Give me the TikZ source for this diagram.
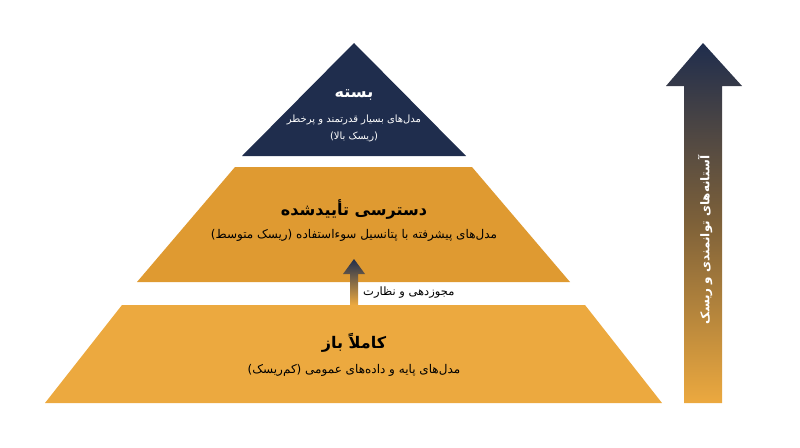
\documentclass[tikz,border=0pt]{standalone}
\usepackage{fontspec}
\TeXXeTstate=1
\newfontfamily\fa[Script=Arabic]{DejaVu Sans}
\usetikzlibrary{shadings}
\definecolor{navy}{HTML}{1F2D4D}
\definecolor{midorange}{HTML}{DF9A31}
\definecolor{lightorange}{HTML}{ECA93F}
\definecolor{brownmid}{HTML}{7E6139}
\tikzset{
  title/.style={font=\fa\bfseries\fontsize{16}{19}\selectfont, inner sep=0pt},
  sub/.style={font=\fa\fontsize{12}{17}\selectfont, inner sep=0pt, align=center},
  smallsub/.style={font=\fa\fontsize{10}{17}\selectfont, inner sep=0pt, align=center},
}
\begin{document}
\begin{tikzpicture}[x=1pt,y=-1pt]
\useasboundingbox (0,0) rectangle (800,447);
% levels
\fill[navy] (354,43) -- (466,156) -- (242,156) -- cycle;
\fill[midorange] (235,167) -- (472,167) -- (570,282) -- (137,282) -- cycle;
\fill[lightorange] (122,305) -- (585,305) -- (662,403) -- (45,403) -- cycle;
% top texts
\node[title, text=white] (t1) at (354,95) {\beginR بسته\endR};
\node[smallsub, text=white] (s1a) at (354,120) {\beginR مدل‌های بسیار قدرتمند و پرخطر\endR};
\node[smallsub, text=white] (s1b) at (354,137) {\beginR (ریسک بالا)\endR};
% middle texts
\node[title] (t2) at (354,210) {\beginR دسترسی تأییدشده\endR};
\node[sub] (s2) at (354,235) {\beginR مدل‌های پیشرفته با پتانسیل سوءاستفاده (ریسک متوسط)\endR};
% bottom texts
\node[title] (t3) at (354,343) {\beginR کاملاً باز\endR};
\node[sub] (s3) at (354,370) {\beginR مدل‌های پایه و داده‌های عمومی (کم‌ریسک)\endR};
% small arrow
\coordinate (sa) at (354,259);
\shade[top color=navy, bottom color=lightorange]
  (sa) -- (365,274) -- (358,274) -- (358,305) -- (350,305) -- (350,274) -- (343,274) -- cycle;
\node[font=\fa\fontsize{11.5}{14}\selectfont, inner sep=0pt, anchor=west] (lbl) at (363,293) {\beginR مجوزدهی و نظارت\endR};
% big arrow
\coordinate (ba) at (703,43);
\shade[top color=navy, bottom color=lightorange, middle color=brownmid]
  (ba) -- (742,86) -- (722,86) -- (722,403) -- (684,403) -- (684,86) -- (666,86) -- cycle;
\node[font=\fa\bfseries\fontsize{12}{14}\selectfont, text=white, rotate=90, inner sep=0pt] (bl) at (705,240) {\beginR آستانه‌های توانمندی و ریسک\endR};
\end{tikzpicture}
\end{document}
